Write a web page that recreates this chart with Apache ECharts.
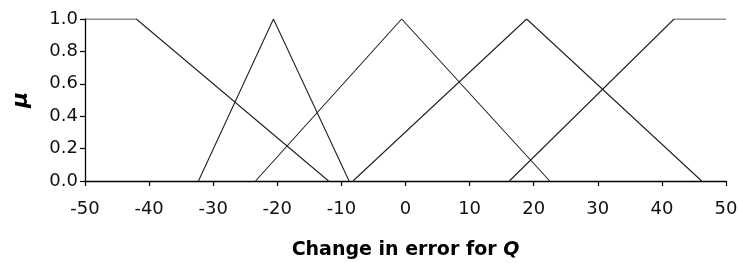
<!DOCTYPE html>
<html>
<head>
<meta charset="utf-8">
<script src="https://cdn.jsdelivr.net/npm/echarts@6/dist/echarts.min.js"></script>
<style>
  html, body { margin: 0; padding: 0; background: #fff; }
  #chart { width: 739px; height: 263px; }
</style>
</head>
<body>
<div id="chart"></div>
<script>
// membership functions, [x, mu] corner points
var nb = [[-50, 1], [-42, 1], [-12, 0]];
var ns = [[-32.3, 0], [-20.6, 1], [-8.8, 0]];
var ze = [[-23.4, 0], [-0.6, 1], [22.5, 0]];
var ps = [[-8.2, 0], [18.9, 1], [46.2, 0]];
var pb = [[16.2, 0], [41.9, 1], [50, 1]];
var xTicks = [-50, -40, -30, -20, -10, 0, 10, 20, 30, 40, 50];

var chart = echarts.init(document.getElementById('chart'), null, { renderer: 'canvas' });

function line(name, data) {
    return {
        name: name,
        type: 'line',
        data: data,
        symbol: 'none',
        silent: true,
        lineStyle: { color: '#222', width: 1.1 }
    };
}

var font = 'DejaVu Sans, Arial, sans-serif';

chart.setOption({
    animation: false,
    grid: { left: 85, right: 13, top: 19, bottom: 82, outerBoundsMode: 'none', containLabel: false },
    xAxis: {
        type: 'value',
        min: xTicks[0],
        max: xTicks[xTicks.length - 1],
        interval: 10,
        splitLine: { show: false },
        axisLine: { lineStyle: { color: '#000', width: 1.3 }, onZero: false },
        axisTick: { show: true, length: 5, lineStyle: { color: '#000', width: 1.2 } },
        axisLabel: { color: '#111', fontSize: 18, fontFamily: font, margin: 19 },
        name: '{b|Change in error for }{bi|Q}',
        nameLocation: 'middle',
        nameGap: 60,
        nameTextStyle: {
            rich: {
                b: { fontSize: 19, fontWeight: 'bold', fontFamily: font, color: '#000' },
                bi: { fontSize: 19, fontWeight: 'bold', fontStyle: 'italic', fontFamily: font, color: '#000' }
            }
        }
    },
    yAxis: {
        type: 'value',
        min: 0,
        max: 1,
        interval: 0.2,
        splitLine: { show: false },
        axisLine: { show: true, onZero: false, lineStyle: { color: '#000', width: 1.3 } },
        axisTick: { show: true, length: 5, lineStyle: { color: '#000', width: 1.2 } },
        axisLabel: {
            color: '#111', fontSize: 18, fontFamily: font, margin: 7,
            formatter: function (v) { return v.toFixed(1); }
        },
        name: 'μ',
        nameLocation: 'middle',
        nameGap: 53,
        nameRotate: 90,
        nameTextStyle: { fontSize: 22, fontWeight: 'bold', fontStyle: 'italic', fontFamily: font, color: '#000' }
    },
    series: [
        line('NB', nb),
        line('NS', ns),
        line('ZE', ze),
        line('PS', ps),
        line('PB', pb)
    ]
});
</script>
</body>
</html>
